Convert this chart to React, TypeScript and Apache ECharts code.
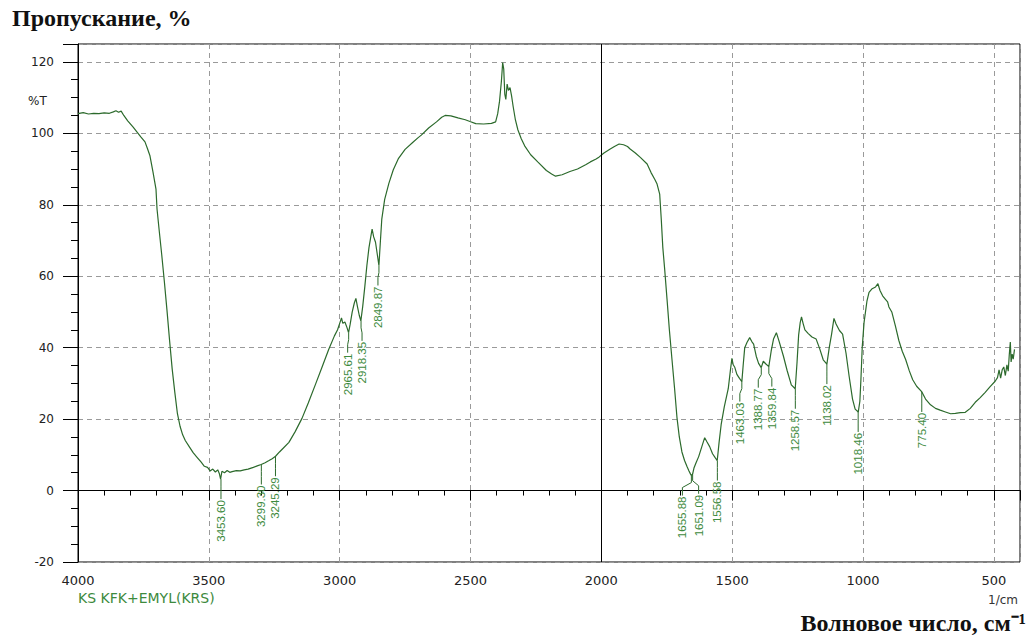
import React, { useEffect, useRef } from "react";
import * as echarts from "echarts";

// IR spectrum: [wavenumber (cm^-1), transmittance (%T)]
const SPECTRUM: [number, number][] = [
  [4000, 105.5], [3980, 105.8], [3960, 105.4], [3940, 105.6], [3920, 105.5],
  [3900, 105.7], [3880, 105.6], [3865, 106.0], [3855, 106.3], [3845, 105.9],
  [3835, 106.2], [3825, 105.0], [3810, 103.5], [3790, 101.8], [3775, 100.4],
  [3760, 99.0], [3744, 97.6], [3735, 95.8], [3725, 93.7], [3713, 89.0],
  [3702, 84.4], [3698, 78.8], [3690, 73.0], [3680, 66.0], [3670, 58.5],
  [3660, 50.5], [3650, 42.0], [3640, 34.0], [3630, 27.5], [3620, 21.5],
  [3610, 18.0], [3600, 15.6], [3590, 14.0], [3575, 12.3], [3560, 10.6],
  [3545, 9.3], [3530, 8.0], [3517, 6.8], [3505, 6.5], [3495, 5.5],
  [3485, 6.0], [3475, 5.2], [3466, 5.8], [3460, 4.8], [3455, 3.2],
  [3450, 5.4], [3440, 5.0], [3430, 5.6], [3420, 5.1], [3411, 5.3],
  [3395, 5.6], [3380, 5.5], [3365, 5.8], [3350, 6.0], [3330, 6.5],
  [3315, 6.9], [3300, 7.3], [3285, 7.8], [3270, 8.4], [3258, 8.9],
  [3245, 9.6], [3230, 10.8], [3215, 11.9], [3194, 13.5], [3170, 16.5],
  [3144, 20.2], [3120, 24.5], [3091, 30.0], [3065, 35.0], [3042, 39.5],
  [3020, 43.3], [3008, 45.0], [2998, 47.2], [2993, 48.3], [2988, 46.8],
  [2980, 47.2], [2972, 45.6], [2966, 44.2], [2960, 46.5], [2952, 50.0],
  [2944, 52.5], [2938, 53.8], [2932, 51.5], [2925, 49.0], [2919, 47.5],
  [2912, 51.5], [2904, 57.0], [2896, 63.0], [2888, 68.0], [2880, 71.5],
  [2876, 73.2], [2870, 71.0], [2863, 69.5], [2856, 66.0], [2850, 63.0],
  [2845, 69.0], [2839, 76.0], [2828, 81.5], [2812, 86.0], [2795, 89.8],
  [2775, 93.0], [2750, 95.5], [2720, 97.5], [2700, 98.8], [2688, 99.5],
  [2660, 101.5], [2630, 103.2], [2610, 104.5], [2597, 105.0], [2575, 104.9],
  [2548, 104.3], [2520, 103.8], [2502, 103.3], [2480, 102.7], [2450, 102.6],
  [2420, 102.8], [2404, 103.2], [2396, 105.5], [2389, 109.0], [2382, 114.5],
  [2377, 119.8], [2373, 118.0], [2369, 111.0], [2365, 109.5], [2360, 113.8],
  [2355, 112.0], [2349, 112.8], [2343, 110.5], [2337, 107.5], [2329, 104.0],
  [2319, 101.0], [2306, 98.5], [2293, 96.5], [2270, 94.0], [2243, 92.0],
  [2210, 89.6], [2190, 88.6], [2175, 88.0], [2150, 88.4], [2120, 89.3],
  [2091, 90.0], [2060, 91.2], [2042, 92.0], [2020, 92.8], [2008, 93.4],
  [1990, 94.5], [1966, 95.6], [1950, 96.3], [1932, 97.0], [1915, 96.8],
  [1900, 96.3], [1890, 95.6], [1870, 94.5], [1850, 93.2], [1825, 91.4],
  [1810, 89.0], [1795, 87.0], [1787, 85.8], [1777, 83.0], [1771, 76.0],
  [1765, 68.0], [1758, 62.0], [1749, 53.6], [1740, 45.0], [1730, 36.7],
  [1720, 28.5], [1711, 20.5], [1702, 15.0], [1692, 10.8], [1682, 8.4],
  [1673, 6.8], [1665, 5.5], [1659, 4.6], [1655.9, 4.2], [1651, 4.7],
  [1646, 6.3], [1638, 7.8], [1628, 9.5], [1615, 12.5], [1605, 14.8],
  [1596, 13.6], [1586, 12.3], [1575, 10.3], [1565, 9.2], [1557, 8.4],
  [1550, 13.5], [1542, 18.5], [1530, 23.5], [1515, 28.5], [1507, 33.5],
  [1501, 37.0], [1496, 35.2], [1490, 34.5], [1482, 32.5], [1472, 31.4],
  [1463, 30.5], [1458, 35.0], [1452, 40.0], [1443, 41.5], [1433, 42.8],
  [1425, 41.7], [1418, 41.0], [1408, 37.6], [1399, 35.6], [1389, 34.4],
  [1381, 36.2], [1372, 35.5], [1360, 34.7], [1351, 39.0], [1342, 42.4],
  [1331, 44.2], [1320, 41.6], [1304, 37.6], [1290, 33.6], [1274, 29.6],
  [1259, 28.5], [1252, 36.0], [1246, 43.5], [1240, 47.0], [1235, 48.6],
  [1229, 46.8], [1222, 45.0], [1210, 44.0], [1195, 43.0], [1179, 42.4],
  [1165, 39.6], [1152, 36.6], [1138, 35.4], [1129, 40.0], [1120, 43.8],
  [1111, 48.2], [1103, 46.6], [1090, 44.8], [1078, 43.8], [1065, 38.5],
  [1053, 32.0], [1040, 25.6], [1030, 22.8], [1018, 22.0], [1012, 25.0],
  [1008, 31.0], [1003, 40.0], [996, 47.0], [985, 53.0], [977, 55.5],
  [965, 56.5], [952, 57.0], [943, 57.9], [935, 56.0], [925, 54.5],
  [915, 53.6], [906, 52.8], [901, 51.4], [890, 50.0], [876, 46.0],
  [863, 42.0], [850, 39.0], [837, 36.7], [823, 33.5], [810, 31.0],
  [795, 29.2], [775, 27.6], [761, 25.6], [742, 24.0], [723, 23.0],
  [705, 22.5], [685, 22.0], [665, 21.5], [647, 21.6], [628, 21.8],
  [609, 21.9], [590, 23.0], [571, 24.7], [552, 26.0], [533, 27.5],
  [515, 29.0], [495, 30.6], [486, 31.6], [480, 33.8], [474, 31.5],
  [468, 33.8], [462, 34.6], [456, 32.2], [450, 35.2], [445, 33.4],
  [441, 38.0], [437, 41.6], [434, 36.0], [430, 38.2], [426, 36.8],
  [421, 39.5],
];

// labelled absorption bands
const PEAK_WAVENUMBERS = [
  3453.6, 3299.3, 3245.29, 2965.61, 2918.35, 2849.87, 1655.88, 1651.09,
  1556.58, 1463.03, 1388.77, 1359.84, 1258.57, 1138.02, 1018.46, 775.4,
];
const PEAK_TRANSMITTANCE = [
  3.2, 7.3, 9.6, 44.2, 47.5, 63.0, 4.2, 4.7,
  8.4, 30.5, 34.4, 34.7, 28.5, 35.4, 22.0, 27.6,
];
// horizontal displacement of crowded labels (px, layout only)
const PEAK_LABEL_SHIFT = [0, 0, 0, -1, 1, -1, -9, 6, 0, -2, -3, 3, 0, 0, 0, 0];

const X_MIN = 400;
const X_MAX = 4000;
const Y_MIN = -20;
const Y_MAX = 125;

const TITLE_Y = "Пропускание, %";
const TITLE_X = "Волновое число, см⁻¹";
const UNIT_Y = "%T";
const UNIT_X = "1/cm";
const SAMPLE_NAME = "KS KFK+EMYL(KRS)";

const CURVE = "#2c6a2c";
const LABEL_GREEN = "#3d8a3d";
const GRID_GREY = "#9a9a9a";

export default function App() {
  const ref = useRef<HTMLDivElement>(null);

  useEffect(() => {
    if (!ref.current) return;
    const chart = echarts.init(ref.current, undefined, { renderer: "svg" });

    const peakData = PEAK_WAVENUMBERS.map((w, i) => [w, PEAK_TRANSMITTANCE[i]]);

    const option: any = {
      animation: false,
      backgroundColor: "#fff",
      grid: {
        left: 78,
        right: 12,
        top: 44,
        bottom: 78,
        show: true,
        borderColor: "#000",
        borderWidth: 1,
        backgroundColor: "transparent",
      },
      xAxis: [
        {
          type: "value",
          min: X_MIN,
          max: X_MAX,
          inverse: true,
          minInterval: 500,
          maxInterval: 500,
          splitNumber: 7,
          position: "bottom",
          axisLine: { show: true, lineStyle: { color: "#000", width: 1 } },
          axisTick: { show: true, length: 10, lineStyle: { color: "#000" } },
          axisLabel: {
            margin: 12,
            color: "#222",
            fontSize: 13,
            fontFamily: "DejaVu Sans",
            formatter: (v: number) => (v % 500 === 0 ? String(v) : ""),
          },
          splitLine: {
            show: true,
            lineStyle: { color: GRID_GREY, type: [5, 4], width: 1 },
          },
        },
        {
          type: "value",
          min: X_MIN,
          max: X_MAX,
          inverse: true,
          interval: 100,
          position: "bottom",
          axisLine: { show: false },
          axisTick: { show: true, length: 5, lineStyle: { color: "#000" } },
          axisLabel: { show: false },
          splitLine: { show: false },
        },
      ],
      yAxis: [
        {
          type: "value",
          min: Y_MIN,
          max: Y_MAX,
          interval: 20,
          position: "left",
          axisLine: { show: true, lineStyle: { color: "#000", width: 1 } },
          axisTick: { show: true, length: 15, lineStyle: { color: "#000" } },
          axisLabel: {
            margin: 24,
            color: "#222",
            fontSize: 12,
            fontFamily: "DejaVu Sans",
            formatter: (v: number) => (v % 20 === 0 ? String(v) : ""),
          },
          splitLine: {
            show: true,
            lineStyle: { color: GRID_GREY, type: [5, 4], width: 1 },
          },
        },
        {
          type: "value",
          min: Y_MIN,
          max: Y_MAX,
          interval: 5,
          position: "left",
          axisLine: { show: false },
          axisTick: { show: true, length: 7, lineStyle: { color: "#000" } },
          axisLabel: { show: false },
          splitLine: { show: false },
        },
      ],
      series: [
        {
          type: "line",
          data: SPECTRUM,
          xAxisIndex: 0,
          yAxisIndex: 0,
          showSymbol: false,
          symbol: "none",
          silent: true,
          lineStyle: { color: CURVE, width: 1.2 },
          markLine: {
            silent: true,
            symbol: ["none", "none"],
            label: { show: false },
            lineStyle: { color: "#000", type: "solid", width: 1 },
            data: [{ xAxis: 2000 }],
          },
          z: 3,
        },
        {
          type: "custom",
          coordinateSystem: "cartesian2d",
          xAxisIndex: 0,
          yAxisIndex: 0,
          silent: true,
          clip: false,
          data: peakData,
          z: 4,
          renderItem: (params: any, api: any) => {
            const w = api.value(0);
            const v = api.value(1);
            const p = api.coord([w, v]);
            const dx = PEAK_LABEL_SHIFT[params.dataIndex] || 0;
            const x0 = p[0];
            const y0 = p[1];
            return {
              type: "group",
              children: [
                {
                  type: "polyline",
                  shape: {
                    points: [
                      [x0, y0],
                      [x0, y0 + 7],
                      [x0 + dx, y0 + 12],
                      [x0 + dx, y0 + 20],
                    ],
                  },
                  style: { stroke: CURVE, fill: "none", lineWidth: 1 },
                },
                {
                  type: "text",
                  x: x0 + dx,
                  y: y0 + 21,
                  rotation: Math.PI / 2,
                  style: {
                    text: w.toFixed(2),
                    align: "right",
                    verticalAlign: "middle",
                    fill: LABEL_GREEN,
                    fontSize: 11.5,
                    fontFamily: "Liberation Sans",
                  },
                },
              ],
            };
          },
        },
      ],
      graphic: [
        {
          type: "text",
          left: 12,
          top: 6,
          style: {
            text: TITLE_Y,
            fill: "#111",
            font: "bold 24px 'Liberation Serif'",
          },
        },
        {
          type: "text",
          left: 28,
          top: 95,
          style: {
            text: UNIT_Y,
            fill: "#222",
            font: "12px 'DejaVu Sans'",
          },
        },
        {
          type: "text",
          left: 78,
          top: 591,
          style: {
            text: SAMPLE_NAME,
            fill: LABEL_GREEN,
            font: "14px 'DejaVu Sans'",
          },
        },
        {
          type: "text",
          right: 14,
          top: 594,
          style: {
            text: UNIT_X,
            fill: "#333",
            font: "12px 'DejaVu Sans'",
          },
        },
        {
          type: "text",
          right: 6,
          top: 611,
          style: {
            text: TITLE_X,
            fill: "#111",
            font: "bold 24px 'Liberation Serif'",
          },
        },
      ],
    };

    chart.setOption(option);
    return () => {
      chart.dispose();
    };
  }, []);

  return (
    <div
      ref={ref}
      style={{
        position: "fixed",
        left: 0,
        top: 0,
        width: 1032,
        height: 640,
        background: "#fff",
      }}
    />
  );
}
